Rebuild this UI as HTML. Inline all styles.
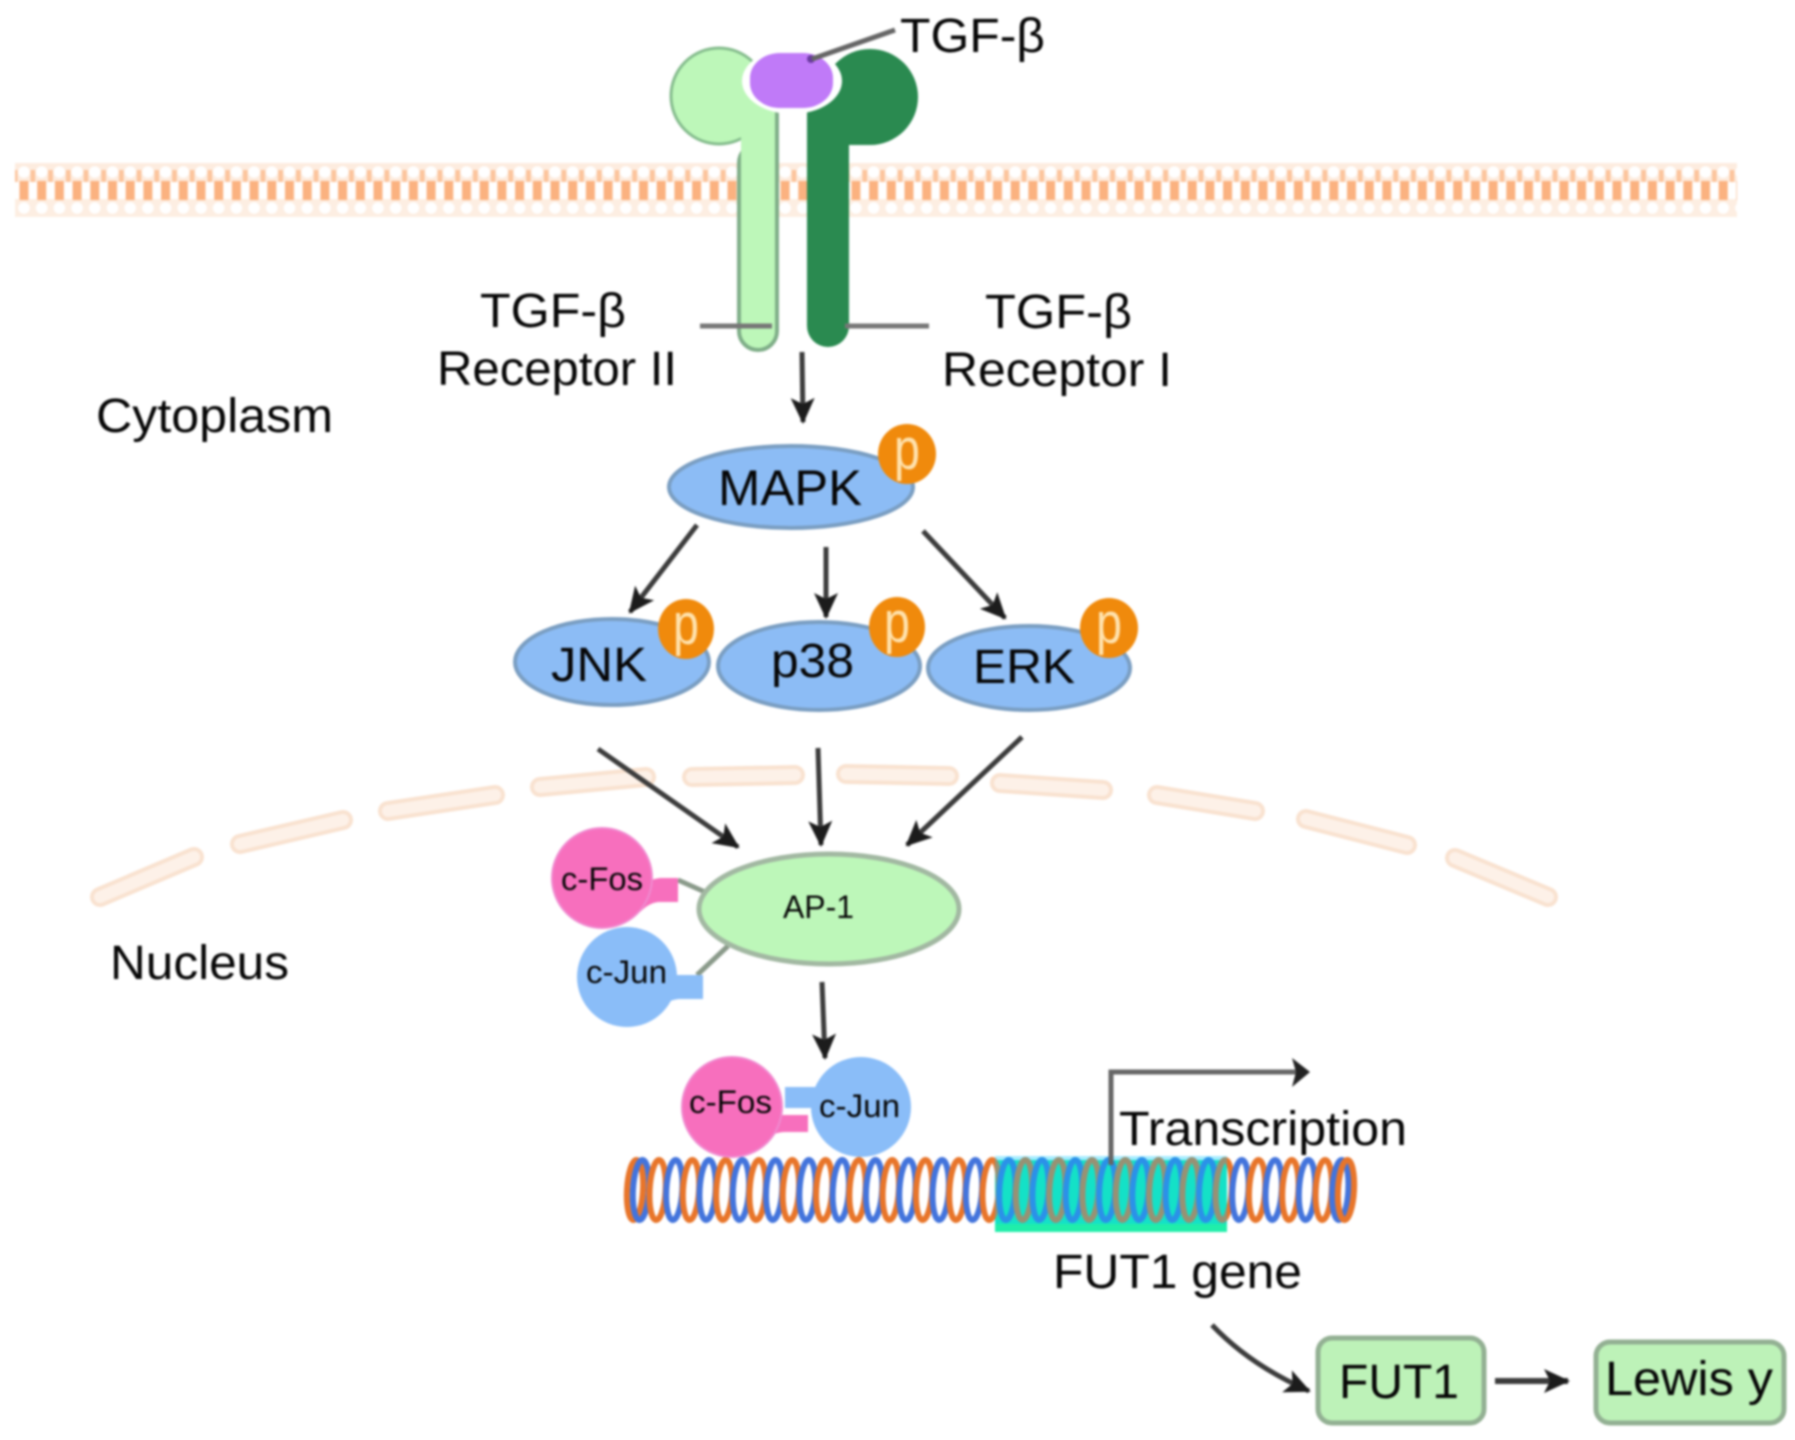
<!DOCTYPE html>
<html><head><meta charset="utf-8"><title>TGF-β MAPK AP-1 FUT1 pathway</title>
<style>
html,body{margin:0;padding:0;background:#fff}
svg{display:block;filter:blur(1px)}
text{font-family:"Liberation Sans",sans-serif;fill:#060606;font-size:48px}
.sm{font-size:32px}
.p{fill:#ffe2ad;font-size:58px}
</style></head><body>
<svg width="1795" height="1440" viewBox="0 0 1795 1440" xmlns="http://www.w3.org/2000/svg">
<defs>
<pattern id="mem" x="15" y="160" width="17.7" height="58" patternUnits="userSpaceOnUse">
<rect x="0" y="3" width="17.7" height="19" fill="#fdecdf"/>
<rect x="0" y="39" width="17.7" height="18" fill="#fdeee2"/>
<rect x="-1" y="10" width="3.5" height="12" fill="#fcc49c"/>
<rect x="15.5" y="10" width="3.5" height="12" fill="#fcc49c"/>
<circle cx="9" cy="12" r="5.8" fill="#fff"/>
<circle cx="9" cy="48" r="5.8" fill="#fff"/>
<rect x="4.5" y="21" width="9" height="19" fill="#fbb280"/>
</pattern>
<marker id="a" markerUnits="userSpaceOnUse" markerWidth="32" markerHeight="32" refX="24" refY="14" orient="auto">
<path d="M0,2 L26,14 L0,26 L6,14 Z" fill="#1c1c1c"/>
</marker>
<ellipse id="b" rx="8" ry="30" fill="none" stroke="#4374dc" stroke-width="6" transform="rotate(3)"/>
<ellipse id="o" rx="8" ry="30" fill="none" stroke="#e8752a" stroke-width="6" transform="rotate(3)"/>
</defs>
<rect width="1795" height="1440" fill="#fff"/>
<rect x="15" y="160" width="1722" height="58" fill="url(#mem)"/>

<g fill="none" stroke-linecap="round">
<path stroke="#f9e2d0" stroke-width="20" d="M100,897 L194,857 M240,844 L343,820 M388,811 L495,795 M540,787 L646,777 M692,777 L795,775 M846,774 L949,776 M1000,783 L1103,790 M1157,795 L1255,811 M1306,819 L1407,845 M1455,858 L1548,897"/>
<path stroke="#fdf1e8" stroke-width="12" d="M100,897 L194,857 M240,844 L343,820 M388,811 L495,795 M540,787 L646,777 M692,777 L795,775 M846,774 L949,776 M1000,783 L1103,790 M1157,795 L1255,811 M1306,819 L1407,845 M1455,858 L1548,897"/>
</g>

<!-- receptors -->
<circle cx="719" cy="96" r="48" fill="#bdf7b9" stroke="#86bd8e" stroke-width="3"/>
<rect x="739" y="144" width="38" height="206" rx="19" fill="#bdf7b9" stroke="#7fae88" stroke-width="4"/>
<rect x="741" y="100" width="34" height="70" fill="#bdf7b9"/>
<path d="M777,106 V165" stroke="#7fae88" stroke-width="4" fill="none"/>
<circle cx="870" cy="97" r="48" fill="#2a8a50"/>
<rect x="807" y="95" width="63" height="50" fill="#2a8a50"/>
<rect x="807" y="110" width="42" height="237" rx="21" fill="#2a8a50"/>
<ellipse cx="792" cy="81" rx="50" ry="33" fill="#fff"/>
<rect x="750" y="53" width="83" height="55" rx="30" ry="25" fill="#c07af8"/>
<circle cx="811" cy="59" r="4" fill="#6a3aa0"/>
<path d="M895,30 L812,59" stroke="#666" stroke-width="5" fill="none"/>
<path d="M700,326 H772 M845,326 H929" stroke="#777" stroke-width="5" fill="none"/>

<!-- labels -->
<text x="900" y="52" textLength="145" lengthAdjust="spacingAndGlyphs">TGF-β</text>
<text x="480" y="327" textLength="146" lengthAdjust="spacingAndGlyphs">TGF-β</text>
<text x="437" y="385" textLength="240" lengthAdjust="spacingAndGlyphs">Receptor II</text>
<text x="985" y="328" textLength="147" lengthAdjust="spacingAndGlyphs">TGF-β</text>
<text x="942" y="386" textLength="230" lengthAdjust="spacingAndGlyphs">Receptor I</text>
<text x="96" y="432" textLength="237" lengthAdjust="spacingAndGlyphs">Cytoplasm</text>
<text x="110" y="979" textLength="179" lengthAdjust="spacingAndGlyphs">Nucleus</text>

<!-- arrows -->
<g stroke="#3c3c3c" stroke-width="5" fill="none">
<path d="M802,352 L803,422" marker-end="url(#a)"/>
<path d="M697,525 L630,612" marker-end="url(#a)"/>
<path d="M826,547 L826,617" marker-end="url(#a)"/>
<path d="M923,531 L1005,618" marker-end="url(#a)"/>
<path d="M598,749 L738,847" marker-end="url(#a)"/>
<path d="M818,748 L821,845" marker-end="url(#a)"/>
<path d="M1022,737 L907,845" marker-end="url(#a)"/>
<path d="M822,982 L825,1058" marker-end="url(#a)"/>
<path d="M1212,1325 Q1250,1365 1309,1391" marker-end="url(#a)"/>
<path d="M1495,1381 L1568,1381" stroke-width="6" marker-end="url(#a)"/>
</g>

<!-- MAPK family -->
<g fill="#8cbcf5" stroke="#7a9ec2" stroke-width="4">
<ellipse cx="791" cy="487" rx="122" ry="41"/>
<ellipse cx="612" cy="662" rx="97" ry="43"/>
<ellipse cx="819" cy="666" rx="101" ry="44"/>
<ellipse cx="1029" cy="668" rx="101" ry="42"/>
</g>
<g fill="#f08a0c">
<ellipse cx="907" cy="454" rx="29" ry="30"/>
<ellipse cx="686" cy="629" rx="28" ry="30"/>
<ellipse cx="897" cy="627" rx="28" ry="30"/>
<ellipse cx="1109" cy="628" rx="29" ry="30"/>
</g>
<text class="p" x="894" y="469" textLength="26" lengthAdjust="spacingAndGlyphs">p</text>
<text class="p" x="673" y="644" textLength="26" lengthAdjust="spacingAndGlyphs">p</text>
<text class="p" x="884" y="642" textLength="26" lengthAdjust="spacingAndGlyphs">p</text>
<text class="p" x="1096" y="643" textLength="26" lengthAdjust="spacingAndGlyphs">p</text>
<text x="718" y="505" style="font-size:50px" textLength="144" lengthAdjust="spacingAndGlyphs">MAPK</text>
<text x="551" y="681" textLength="96" lengthAdjust="spacingAndGlyphs">JNK</text>
<text x="771" y="677" textLength="83" lengthAdjust="spacingAndGlyphs">p38</text>
<text x="973" y="683" textLength="102" lengthAdjust="spacingAndGlyphs">ERK</text>

<!-- AP-1 complex -->
<path d="M678,880 L705,892 M697,975 L728,946" stroke="#8a9a8a" stroke-width="5" fill="none"/>
<path d="M640,884 Q652,879 660,878 H678 V902 H660 Q650,902 640,912 Z" fill="#f76fbd"/>
<circle cx="602" cy="878" r="50" fill="#f76fbd" stroke="#f08ad0" stroke-width="2"/>
<path d="M665,975 H703 V999 H680 Q672,999 660,1006 Z" fill="#8abdf8"/>
<circle cx="627" cy="977" r="50" fill="#8abdf8"/>
<ellipse cx="829" cy="909" rx="130" ry="55" fill="#bdf7b9" stroke="#a2b8a2" stroke-width="5"/>
<text class="sm" x="561" y="890" textLength="82" lengthAdjust="spacingAndGlyphs">c-Fos</text>
<text class="sm" x="586" y="983" textLength="81" lengthAdjust="spacingAndGlyphs">c-Jun</text>
<text class="sm" x="783" y="918" textLength="71" lengthAdjust="spacingAndGlyphs">AP-1</text>

<!-- DNA -->
<rect x="995" y="1160" width="232" height="72" fill="#20eeaa"/>
<g transform="translate(1,1190)">
<use href="#o" x="634"/><use href="#b" x="640"/><use href="#o" x="656.6"/><use href="#b" x="673.3"/><use href="#o" x="690"/><use href="#b" x="706.6"/><use href="#o" x="723.3"/><use href="#b" x="739.9"/><use href="#o" x="756.6"/><use href="#b" x="773.2"/><use href="#o" x="789.9"/><use href="#b" x="806.5"/><use href="#o" x="823.2"/><use href="#b" x="839.8"/><use href="#o" x="856.5"/><use href="#b" x="873.1"/><use href="#o" x="889.8"/><use href="#b" x="906.4"/><use href="#o" x="923.1"/><use href="#b" x="939.7"/><use href="#o" x="956.4"/><use href="#b" x="973"/><use href="#o" x="989.7"/><use href="#b" x="1006.3"/><use href="#o" x="1023"/><use href="#b" x="1039.6"/><use href="#o" x="1056.3"/><use href="#b" x="1072.9"/><use href="#o" x="1089.6"/><use href="#b" x="1106.2"/><use href="#o" x="1122.9"/><use href="#b" x="1139.5"/><use href="#o" x="1156.2"/><use href="#b" x="1172.8"/><use href="#o" x="1189.5"/><use href="#b" x="1206.1"/><use href="#o" x="1222.8"/><use href="#b" x="1239.4"/><use href="#o" x="1256.1"/><use href="#b" x="1272.7"/><use href="#o" x="1289.4"/><use href="#b" x="1306"/><use href="#o" x="1322.7"/><use href="#b" x="1339.3"/><use href="#o" x="1345"/>
</g>
<rect x="995" y="1156" width="232" height="68" fill="#00c8ff" opacity=".35"/>

<!-- bound dimer -->
<rect x="785" y="1087" width="32" height="21" fill="#8abdf8"/>
<path d="M765,1120 L780,1115 H808 V1132 H785 Q775,1132 762,1140 Z" fill="#f76fbd"/>
<circle cx="732" cy="1107" r="50" fill="#f76fbd" stroke="#f08ad0" stroke-width="2"/>
<circle cx="861" cy="1107" r="50" fill="#8abdf8"/>
<text class="sm" x="689" y="1113" textLength="83" lengthAdjust="spacingAndGlyphs">c-Fos</text>
<text class="sm" x="819" y="1117" textLength="81" lengthAdjust="spacingAndGlyphs">c-Jun</text>

<!-- transcription -->
<path d="M1111,1165 V1072 H1296" stroke="#666" stroke-width="5" fill="none"/>
<path d="M1292,1058 L1310,1072 L1292,1087 L1296,1072 Z" fill="#222"/>
<text x="1119" y="1145" textLength="288" lengthAdjust="spacingAndGlyphs">Transcription</text>
<text x="1053" y="1288" textLength="249" lengthAdjust="spacingAndGlyphs">FUT1 gene</text>

<rect x="1318" y="1338" width="166" height="85" rx="14" fill="#bdf2b8" stroke="#93b093" stroke-width="5"/>
<text x="1339" y="1398" textLength="120" lengthAdjust="spacingAndGlyphs">FUT1</text>
<rect x="1596" y="1342" width="188" height="81" rx="14" fill="#bdf2b8" stroke="#93b093" stroke-width="5"/>
<text x="1605" y="1395" textLength="168" lengthAdjust="spacingAndGlyphs">Lewis y</text>
</svg>
</body></html>
